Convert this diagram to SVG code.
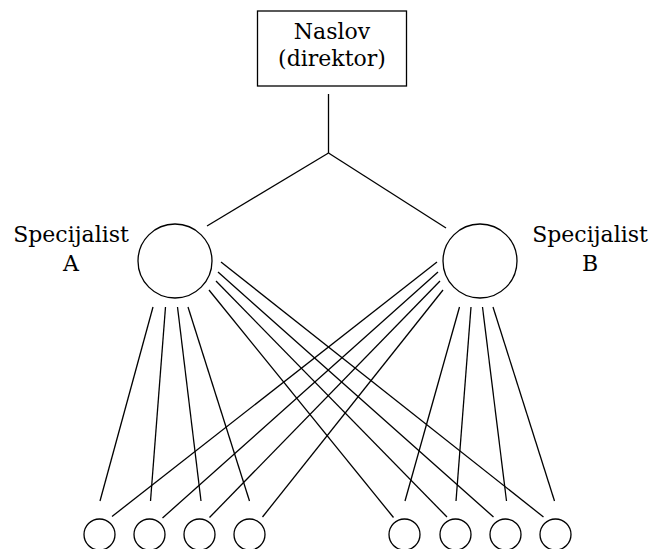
<svg xmlns="http://www.w3.org/2000/svg" width="651" height="549" viewBox="0 0 651 549">
  <style>
    .shape { fill: #ffffff; stroke: #000000; stroke-width: 1.3; }
    .edge { fill: none; stroke: #000000; stroke-width: 1.3; }
    .label { font-family: "DejaVu Serif", "Liberation Serif", serif; font-size: 22px; fill: #000000; text-anchor: middle; }
  </style>
  <rect width="651" height="549" fill="#ffffff"/>

  <!-- connectors -->
  <g id="connectors" class="edge">
    <!-- director to specialists -->
    <line x1="328.5" y1="94" x2="328.5" y2="153"/>
    <line x1="328.5" y1="153" x2="207" y2="226"/>
    <line x1="328.5" y1="153" x2="446" y2="228"/>
    <!-- specialist A to left workers -->
    <line x1="153" y1="307" x2="100" y2="501"/>
    <line x1="165.5" y1="307" x2="150.5" y2="501"/>
    <line x1="177.5" y1="307" x2="201" y2="501"/>
    <line x1="188" y1="307" x2="249.5" y2="501"/>
    <!-- specialist A to right workers -->
    <line x1="221" y1="262" x2="543.5" y2="517"/>
    <line x1="218" y1="272" x2="493.5" y2="517"/>
    <line x1="216" y1="281" x2="447" y2="517"/>
    <line x1="209" y1="290" x2="393.5" y2="517.5"/>
    <!-- specialist B to left workers -->
    <line x1="437" y1="262" x2="112" y2="516.5"/>
    <line x1="438" y1="272" x2="162.5" y2="518"/>
    <line x1="440" y1="281" x2="209.5" y2="517.5"/>
    <line x1="443" y1="290" x2="262.5" y2="517"/>
    <!-- specialist B to right workers -->
    <line x1="459.5" y1="307" x2="405" y2="501"/>
    <line x1="471" y1="307" x2="456" y2="501"/>
    <line x1="482.5" y1="307" x2="506.5" y2="501"/>
    <line x1="493" y1="307" x2="554.5" y2="501"/>
  </g>

  <!-- director -->
  <g id="director">
    <rect class="shape" x="257.5" y="11" width="149" height="75"/>
    <text class="label" x="332" y="38.5">Naslov</text>
    <text class="label" x="332" y="66">(direktor)</text>
  </g>

  <!-- specialists -->
  <g id="specialist-a">
    <circle class="shape" cx="175" cy="261" r="37"/>
    <text class="label" x="71" y="241.5">Specijalist</text>
    <text class="label" x="71" y="270.5">A</text>
  </g>
  <g id="specialist-b">
    <circle class="shape" cx="480" cy="261" r="37"/>
    <text class="label" x="590" y="241.5">Specijalist</text>
    <text class="label" x="590" y="270.5">B</text>
  </g>

  <!-- workers -->
  <g id="worker-1"><circle class="shape" cx="99.5" cy="534.5" r="15.5"/></g>
  <g id="worker-2"><circle class="shape" cx="149.5" cy="534.5" r="15.5"/></g>
  <g id="worker-3"><circle class="shape" cx="199.5" cy="534.5" r="15.5"/></g>
  <g id="worker-4"><circle class="shape" cx="249.5" cy="534.5" r="15.5"/></g>
  <g id="worker-5"><circle class="shape" cx="404.5" cy="534.5" r="15.5"/></g>
  <g id="worker-6"><circle class="shape" cx="455.5" cy="534.5" r="15.5"/></g>
  <g id="worker-7"><circle class="shape" cx="505.5" cy="534.5" r="15.5"/></g>
  <g id="worker-8"><circle class="shape" cx="555.5" cy="534.5" r="15.5"/></g>
</svg>
